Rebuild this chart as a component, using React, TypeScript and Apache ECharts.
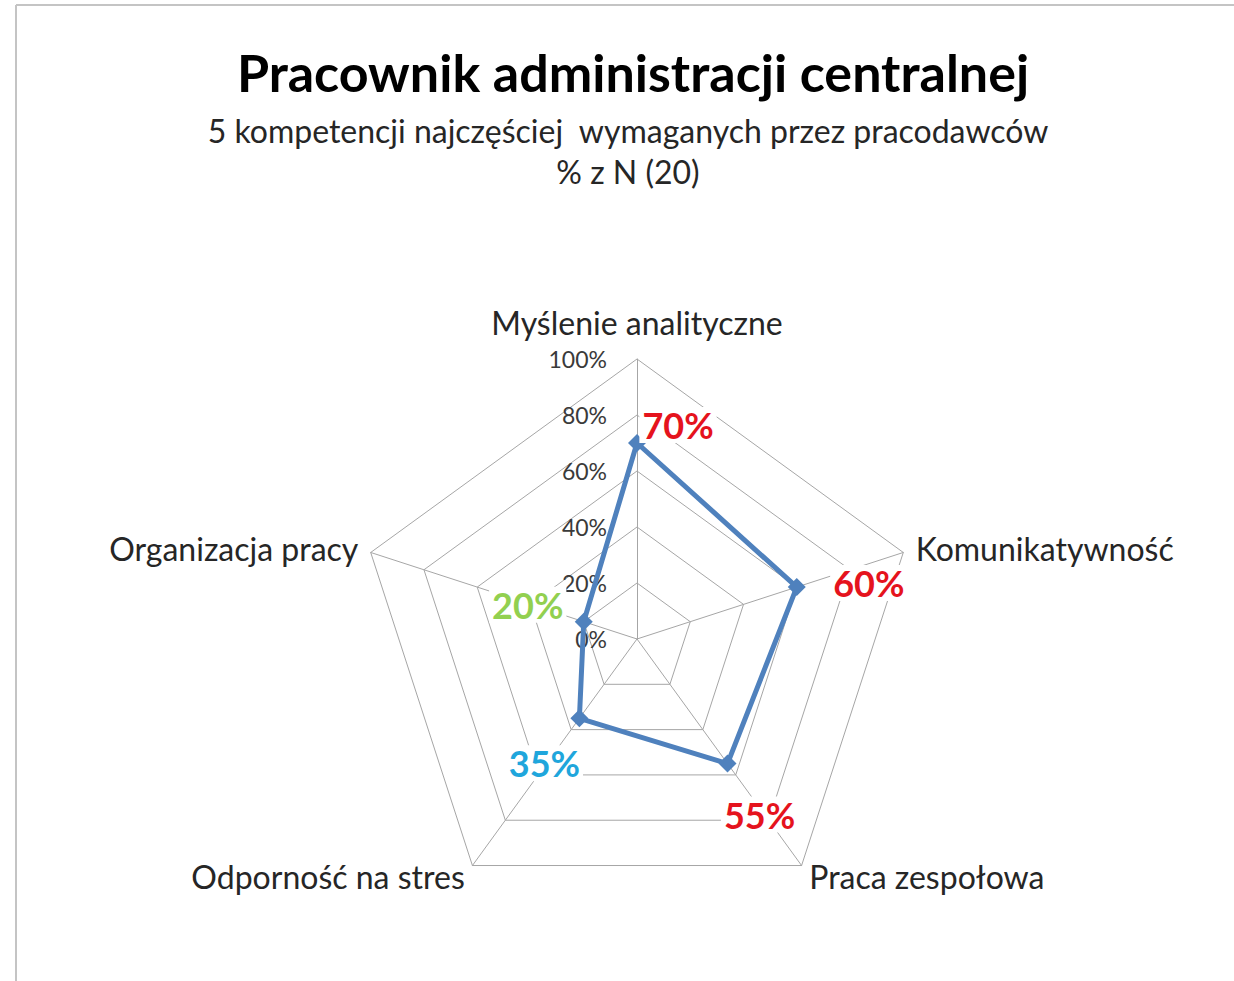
import React, { useEffect, useRef } from "react";
import * as echarts from "echarts";

// Indicators in ECharts order (counter-clockwise from the top)
const categories = [
  "Myślenie analityczne",
  "Organizacja pracy",
  "Odporność na stres",
  "Praca zespołowa",
  "Komunikatywność",
];
const values = [70, 20, 35, 55, 60];
const labelColors = ["#e5131d", "#92d050", "#1fa6dc", "#e5131d", "#e5131d"];
const labelOffsets: [number, number][] = [
  [41, -18],
  [-56, -17],
  [-35, 45],
  [32, 51],
  [72, -4],
];
const maxValue = 100;
const titleText = "Pracownik administracji centralnej";
const subtitleLines = [
  "5 kompetencji najczęściej  wymaganych przez pracodawców",
  "% z N (20)",
];

const FONT = "Lato, 'Noto Sans', sans-serif";

export default function App() {
  const ref = useRef<HTMLDivElement>(null);
  useEffect(() => {
    if (!ref.current) return;
    const chart = echarts.init(ref.current, undefined, { renderer: "svg" });
    const indicator = categories.map((name, i) =>
      i === 0
        ? {
            name,
            max: maxValue,
            min: 0,
            axisLabel: {
              show: true,
              margin: 30,
              fontSize: 23,
              color: "#3a3a3a",
              fontFamily: FONT,
              formatter: "{value}%",
            },
          }
        : { name, max: maxValue, min: 0 }
    );
    const labelData = categories.map((name, i) => ({
      name,
      value: values,
      label: {
        show: true,
        position: "inside",
        offset: labelOffsets[i],
        formatter: (p: any) =>
          p.dimensionIndex === i ? `{c|${values[i]}%}` : "",
        rich: {
          c: {
            color: labelColors[i],
            fontSize: 36,
            fontWeight: "bold",
            fontFamily: FONT,
            backgroundColor: "#fff",
            padding: [0, 3],
          },
        },
      },
    }));
    chart.setOption({
      animation: false,
      backgroundColor: "#fff",
      title: [
        {
          text: titleText,
          left: 633,
          top: 45,
          padding: 0,
          textAlign: "center",
          textStyle: {
            fontSize: 52,
            fontWeight: "bold",
            color: "#000",
            fontFamily: FONT,
            lineHeight: 54,
          },
        },
        ...subtitleLines.map((t, i) => ({
          text: t,
          left: 628,
          top: 110 + i * 41,
          padding: 0,
          textAlign: "center",
          textStyle: {
            fontSize: 32,
            fontWeight: "normal",
            color: "#262626",
            fontFamily: FONT,
            lineHeight: 40,
          },
        })),
      ],
      graphic: [
        {
          type: "line",
          shape: { x1: 16, y1: 5, x2: 1234, y2: 5 },
          style: { stroke: "#c4c4c4", lineWidth: 2 },
          silent: true,
        },
        {
          type: "line",
          shape: { x1: 16, y1: 5, x2: 16, y2: 981 },
          style: { stroke: "#c4c4c4", lineWidth: 2 },
          silent: true,
        },
      ],
      radar: {
        center: [637, 639],
        radius: 280,
        startAngle: 90,
        shape: "polygon",
        splitNumber: 5,
        nameGap: 13,
        axisName: {
          color: "#262626",
          fontSize: 32,
          fontFamily: FONT,
          formatter: (name: string) =>
            name === categories[0] ? `{t|${name}}` : name,
          rich: {
            t: {
              color: "#262626",
              fontSize: 32,
              fontFamily: FONT,
              padding: [0, 0, 8, 0],
            },
          },
        },
        indicator,
        axisLine: { lineStyle: { color: "#a6a6a6", width: 1 } },
        splitLine: { lineStyle: { color: "#a6a6a6", width: 1 } },
        splitArea: { show: false },
        axisTick: { show: false },
        axisLabel: { show: false },
      },
      series: [
        {
          type: "radar",
          silent: true,
          symbol: "diamond",
          symbolSize: 18,
          lineStyle: { color: "#4f81bd", width: 5 },
          itemStyle: { color: "#4f81bd" },
          data: [{ name: "Pracownik", value: values }],
        },
        {
          type: "radar",
          silent: true,
          symbol: "circle",
          symbolSize: 1,
          lineStyle: { opacity: 0, width: 0 },
          itemStyle: { color: "rgba(0,0,0,0)" },
          data: labelData,
        },
      ],
    });
    return () => chart.dispose();
  }, []);
  return (
    <div
      ref={ref}
      style={{ position: "absolute", left: 0, top: 0, width: 1234, height: 981 }}
    />
  );
}
